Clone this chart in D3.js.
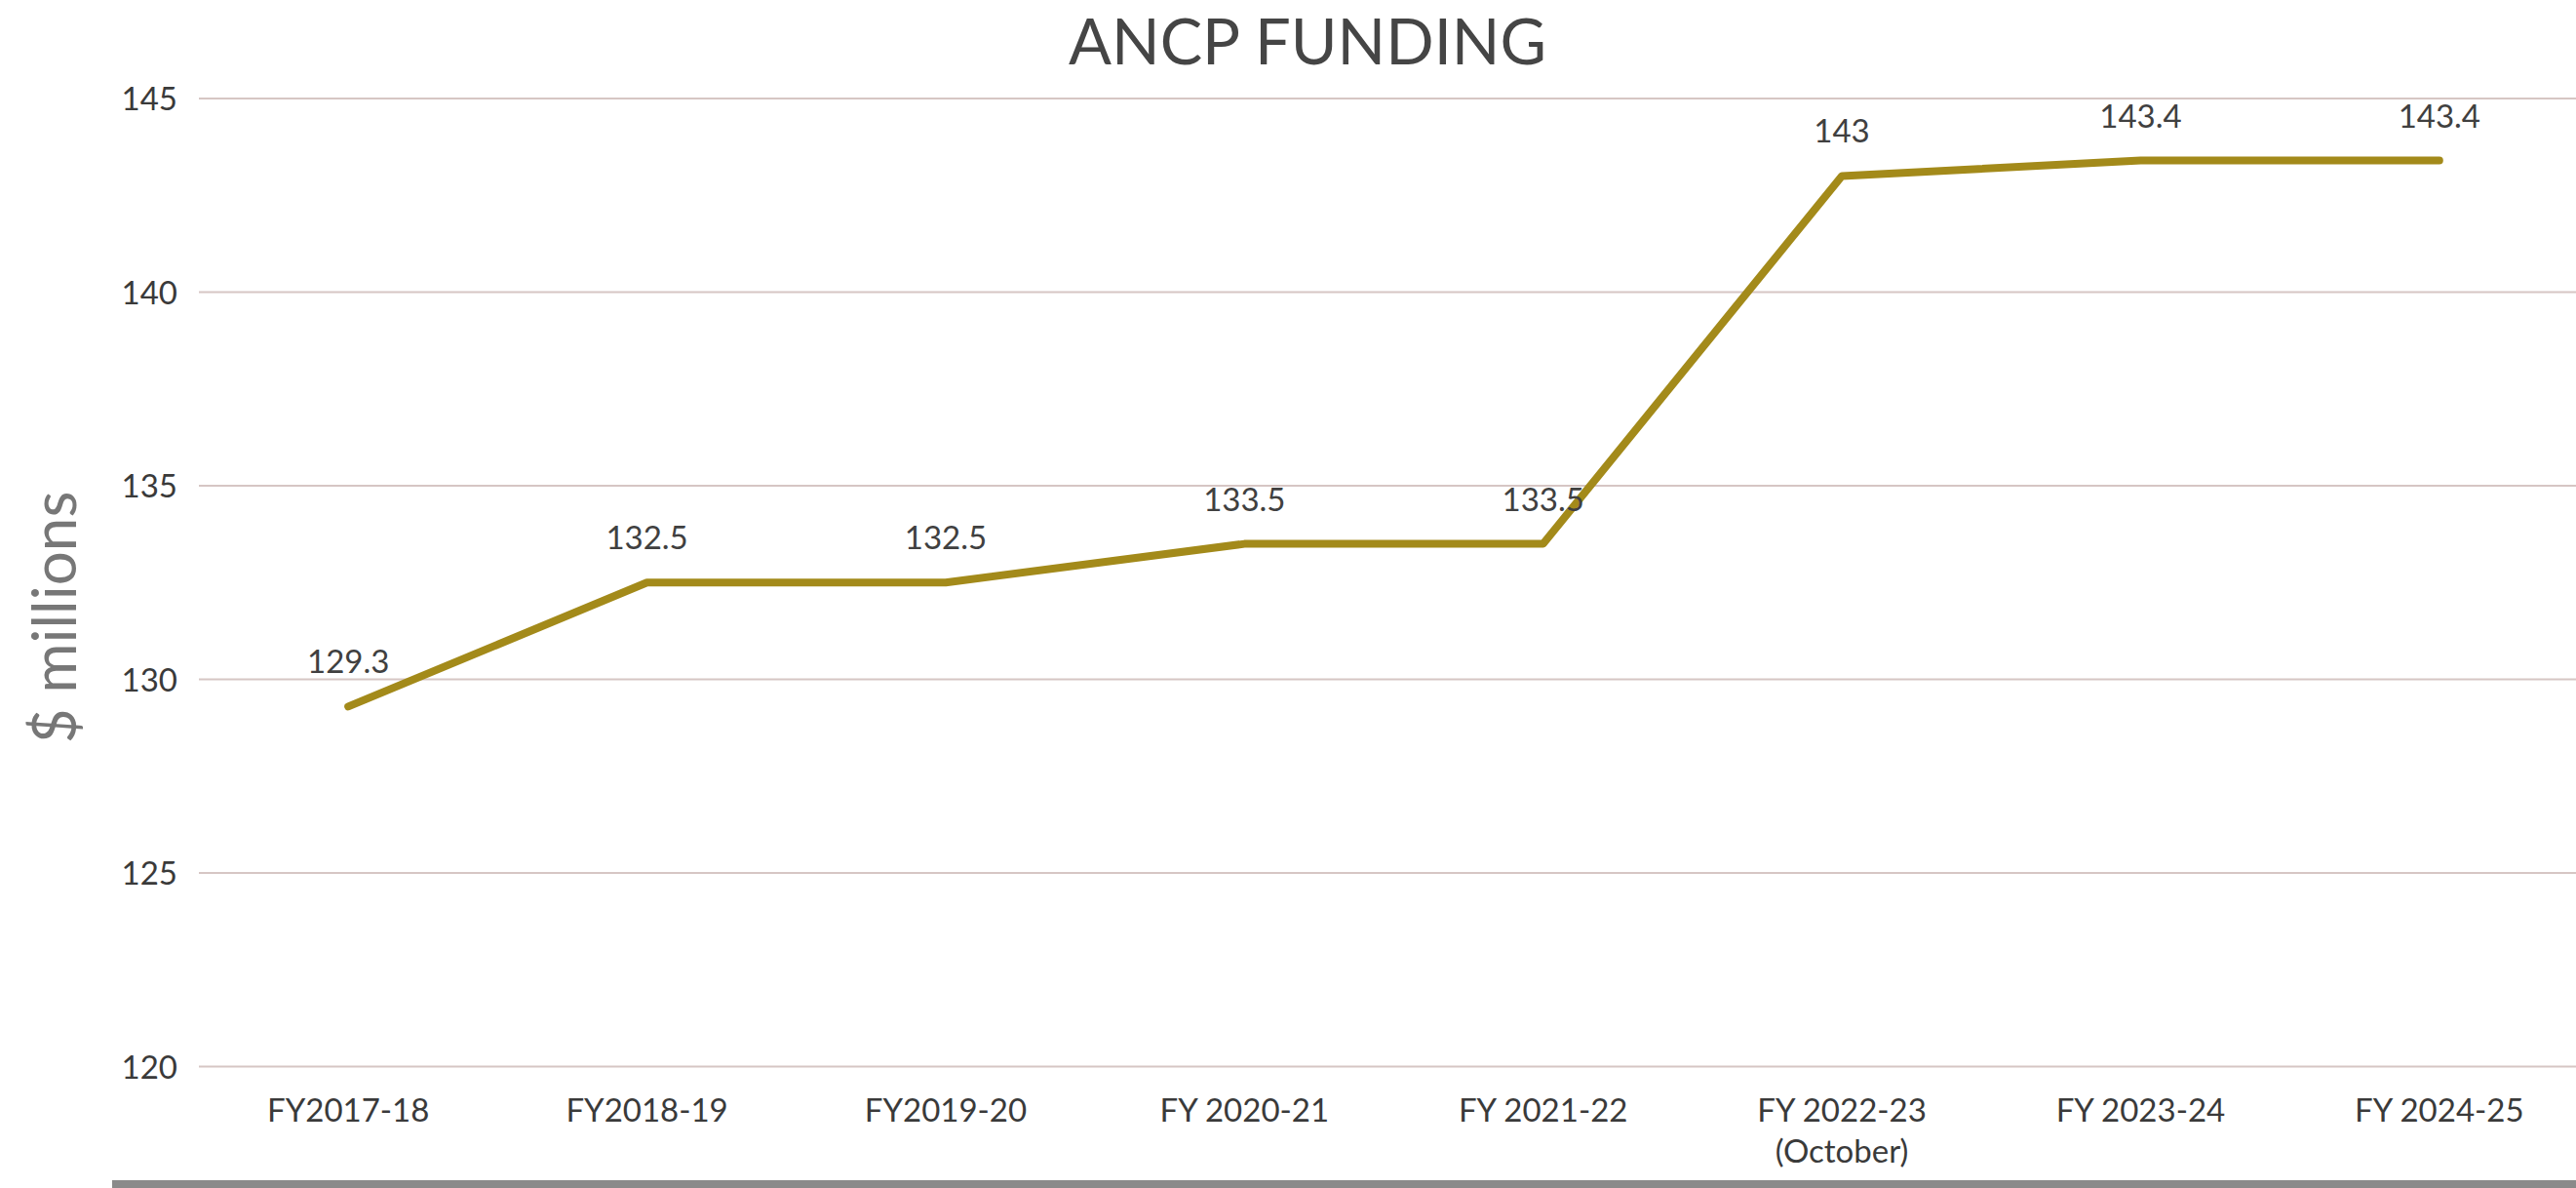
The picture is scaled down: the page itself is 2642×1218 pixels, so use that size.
<!DOCTYPE html>
<html>
<head>
<meta charset="utf-8">
<script src="https://cdn.jsdelivr.net/npm/d3@7"></script>
<style>
  html, body { margin: 0; padding: 0; background: #ffffff; }
  svg { display: block; }
  text { font-family: Lato, "Open Sans", sans-serif; }
</style>
</head>
<body>
<svg id="chart" width="2642" height="1218"></svg>
<script>
const categories = ["FY2017-18", "FY2018-19", "FY2019-20", "FY 2020-21", "FY 2021-22", "FY 2022-23\n(October)", "FY 2023-24", "FY 2024-25"];
const values = [129.3, 132.5, 132.5, 133.5, 133.5, 143, 143.4, 143.4];
const yTicks = [120, 125, 130, 135, 140, 145];
const titleText = "ANCP FUNDING";
const yTitle = "$ millions";

const W = 2642, H = 1218;
const plot = { left: 204, right: 2655, top: 101, bottom: 1093.6 };

const svg = d3.select("#chart");
svg.append("rect").attr("width", W).attr("height", H).attr("fill", "#ffffff");

const x = d3.scaleBand().domain(categories).range([plot.left, plot.right]).padding(0);
const y = d3.scaleLinear().domain([120, 145]).range([plot.bottom, plot.top]);
const cx = d => x(d) + x.bandwidth() / 2;

// gridlines
svg.append("g").selectAll("line").data(yTicks).join("line")
  .attr("x1", plot.left).attr("x2", W)
  .attr("y1", d => y(d)).attr("y2", d => y(d))
  .attr("stroke", "#d6c6c4").attr("stroke-width", 2);

// y axis labels
const yAxis = d3.axisLeft(y).tickValues(yTicks).tickSize(0).tickPadding(0);
const yg = svg.append("g").attr("transform", `translate(182,0)`).call(yAxis);
yg.select(".domain").remove();
yg.selectAll("text").attr("font-size", 33).attr("fill", "#3a3a3a")
  .attr("font-family", "Lato, sans-serif").attr("dy", "0.35em");

// x axis labels
const xg = svg.append("g");
categories.forEach(c => {
  const lines = c.split("\n");
  const t = xg.append("text").attr("x", cx(c)).attr("y", 1150)
    .attr("text-anchor", "middle").attr("font-size", 33).attr("fill", "#3a3a3a");
  lines.forEach((ln, i) => {
    t.append("tspan").attr("x", cx(c)).attr("dy", i === 0 ? 0 : 42).text(ln);
  });
});

// line
const line = d3.line().x((d, i) => cx(categories[i])).y(d => y(d));
svg.append("path").datum(values)
  .attr("d", line)
  .attr("fill", "none")
  .attr("stroke", "#a38a1a")
  .attr("stroke-width", 8)
  .attr("stroke-linejoin", "round")
  .attr("stroke-linecap", "round");

// data labels
svg.append("g").selectAll("text").data(values).join("text")
  .attr("x", (d, i) => cx(categories[i]))
  .attr("y", d => y(d) - 34)
  .attr("text-anchor", "middle")
  .attr("font-size", 33)
  .attr("fill", "#404040")
  .text(d => d);

// title
svg.append("text").attr("x", 1341).attr("y", 66)
  .attr("text-anchor", "middle").attr("font-size", 65).attr("fill", "#454545")
  .text(titleText);

// y title
svg.append("text")
  .attr("transform", `translate(78,633) rotate(-90)`)
  .attr("text-anchor", "middle").attr("font-size", 62).attr("font-weight", 400).attr("fill", "#777777")
  .text(yTitle);

// bottom border bar
svg.append("rect").attr("x", 115).attr("y", 1210).attr("width", W - 115).attr("height", 8)
  .attr("fill", "#8a8a8a");
</script>
</body>
</html>
